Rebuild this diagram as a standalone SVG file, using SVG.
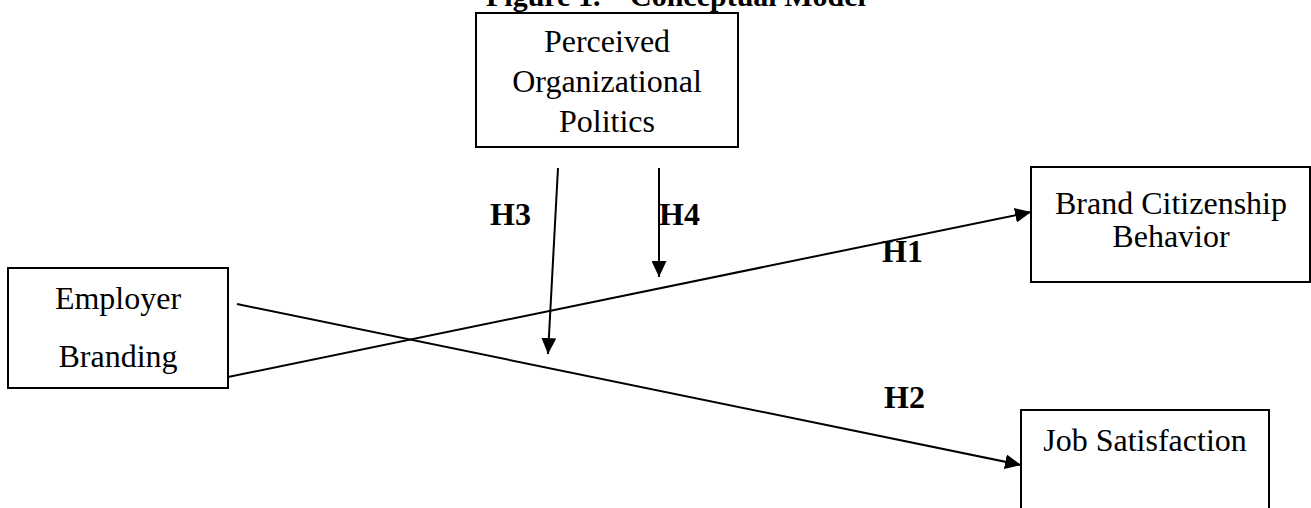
<svg xmlns="http://www.w3.org/2000/svg" width="1311" height="508" viewBox="0 0 1311 508">
<style>
.box{fill:#fff;stroke:#000;stroke-width:2}
.t{font-family:"Liberation Serif","Times New Roman",serif;font-size:32px;fill:#000;text-anchor:middle}
.h{font-family:"Liberation Serif","Times New Roman",serif;font-size:32px;font-weight:bold;fill:#000}
.ti{font-family:"Liberation Serif","Times New Roman",serif;font-size:30px;font-weight:bold;fill:#000}
.c{stroke:#000;stroke-width:2;fill:none;marker-end:url(#ah)}
</style>
<defs>
<marker id="ah" markerUnits="userSpaceOnUse" markerWidth="16" markerHeight="15" refX="16" refY="7.5" orient="auto">
<path d="M0,0 L16,7.5 L0,15 Z" fill="#000"/>
</marker>
</defs>
<rect width="1311" height="508" fill="#fff"/>
<g id="title">
<text class="ti" x="486" y="6">Figure 1.</text>
<text class="ti" x="630" y="6">Conceptual Model</text>
</g>
<g id="pop">
<rect class="box" x="476" y="13" width="262" height="134"/>
<text class="t" x="607" y="52">Perceived</text>
<text class="t" x="607" y="92">Organizational</text>
<text class="t" x="607" y="132">Politics</text>
</g>
<g id="eb">
<rect class="box" x="8" y="268" width="220" height="120"/>
<text class="t" x="118" y="309">Employer</text>
<text class="t" x="118" y="367">Branding</text>
</g>
<g id="bcb">
<rect class="box" x="1031" y="167" width="279" height="115"/>
<text class="t" x="1171" y="214">Brand Citizenship</text>
<text class="t" x="1171" y="247">Behavior</text>
</g>
<g id="js">
<rect class="box" x="1021" y="410" width="248" height="110"/>
<text class="t" x="1145" y="451">Job Satisfaction</text>
</g>
<g id="connectors">
<line class="c" x1="228" y1="377" x2="1031" y2="212"/>
<line class="c" x1="237" y1="304" x2="1021" y2="465"/>
<line class="c" x1="558" y1="168" x2="548" y2="354"/>
<line class="c" x1="659" y1="168" x2="659" y2="277"/>
</g>
<g id="labels">
<text class="h" x="490" y="225">H3</text>
<text class="h" x="659" y="225">H4</text>
<text class="h" x="882" y="262">H1</text>
<text class="h" x="884" y="408">H2</text>
</g>
</svg>
